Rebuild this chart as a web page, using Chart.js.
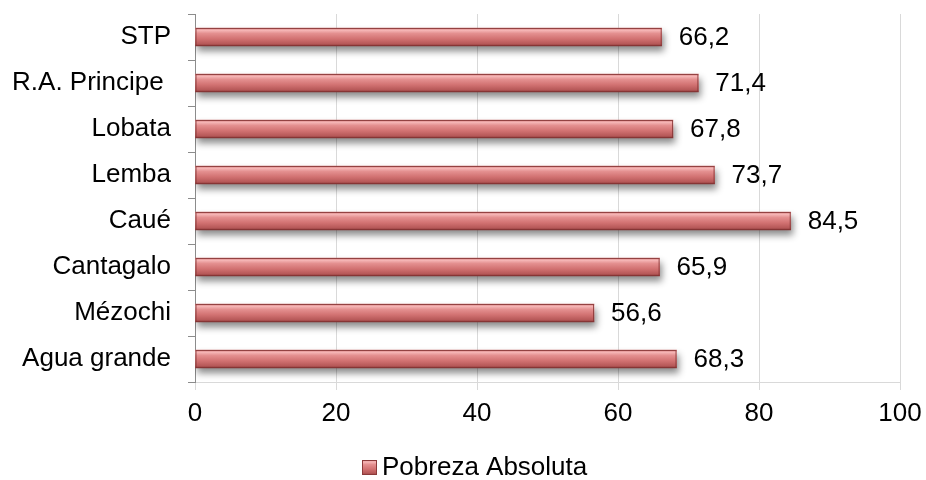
<!DOCTYPE html>
<html lang="pt">
<head>
  <meta charset="UTF-8">
  <title>Pobreza Absoluta</title>
  <script src="https://cdn.jsdelivr.net/npm/chart.js"></script>
  <style>
    html, body { margin: 0; padding: 0; background: #fff; }
    #wrap { width: 926px; height: 480px; }
  </style>
</head>
<body>
  <div id="wrap"><canvas id="myChart" width="926" height="480"></canvas></div>

  <script>
    const categorias = ['STP', 'R.A. Principe ', 'Lobata', 'Lemba', 'Caué', 'Cantagalo', 'Mézochi', 'Agua grande'];
    const pobreza = [66.2, 71.4, 67.8, 73.7, 84.5, 65.9, 56.6, 68.3];
    const ticksX = [0, 20, 40, 60, 80, 100];
    const serieNome = 'Pobreza Absoluta';

    const fonte = 'Liberation Sans, Arial, sans-serif';
    const BAR_H = 18;

    function gradiente(ctx, top, h) {
      const g = ctx.createLinearGradient(0, top, 0, top + h);
      g.addColorStop(0, '#d07070');
      g.addColorStop(0.12, '#f6b8b8');
      g.addColorStop(0.3, '#e49090');
      g.addColorStop(0.6, '#d27272');
      g.addColorStop(0.88, '#b65858');
      g.addColorStop(1, '#8a3a3a');
      return g;
    }

    // each bar gets its own vertical gradient (cylinder look)
    function corBarra(c) {
      const chart = c.chart;
      const y = chart.scales.y;
      if (!y || c.dataIndex === undefined || !chart.chartArea) return '#d27272';
      const cy = y.getPixelForValue(c.dataIndex);
      return gradiente(chart.ctx, cy - BAR_H / 2, BAR_H);
    }

    const barras3d = {
      id: 'barras3d',
      beforeDatasetsDraw(chart) {
        const ctx = chart.ctx;
        ctx.save();
        ctx.shadowColor = 'rgba(0,0,0,0.45)';
        ctx.shadowBlur = 7;
        ctx.shadowOffsetX = 2;
        ctx.shadowOffsetY = 5;
      },
      afterDatasetsDraw(chart) {
        const ctx = chart.ctx;
        ctx.restore();
        const meta = chart.getDatasetMeta(0);
        ctx.save();
        // thin dark outline
        ctx.strokeStyle = 'rgba(130,50,50,0.8)';
        ctx.lineWidth = 1;
        meta.data.forEach(bar => {
          const left = Math.min(bar.base, bar.x);
          ctx.strokeRect(left + 0.5, bar.y - BAR_H / 2 + 0.5, Math.abs(bar.x - bar.base) - 1, BAR_H - 1);
        });
        // value labels, comma decimal
        ctx.font = '26px ' + fonte;
        ctx.fillStyle = '#000';
        ctx.textAlign = 'left';
        ctx.textBaseline = 'middle';
        meta.data.forEach((bar, i) => {
          const txt = pobreza[i].toFixed(1).replace('.', ',');
          ctx.fillText(txt, bar.x + 17, bar.y + 1);
        });
        ctx.restore();
      },
      afterDraw(chart) {
        // legend drawn by hand to place it like the original
        const ctx = chart.ctx;
        ctx.save();
        ctx.fillStyle = gradiente(ctx, 460, 15);
        ctx.fillRect(362, 460, 15, 15);
        ctx.strokeStyle = '#8b3a3a';
        ctx.lineWidth = 1;
        ctx.strokeRect(362.5, 460.5, 14, 14);
        ctx.font = '26px ' + fonte;
        ctx.fillStyle = '#000';
        ctx.textAlign = 'left';
        ctx.textBaseline = 'middle';
        ctx.fillText(serieNome, 382, 468);
        ctx.restore();
      }
    };

    const ctx = document.getElementById('myChart').getContext('2d');
    const myChart = new Chart(ctx, {
      type: 'bar',
      data: {
        labels: categorias,
        datasets: [{
          label: serieNome,
          data: pobreza,
          backgroundColor: corBarra,
          borderWidth: 0,
          barThickness: BAR_H
        }]
      },
      options: {
        indexAxis: 'y',
        responsive: false,
        animation: false,
        layout: { padding: { top: 14, right: 26, bottom: 26, left: 0 } },
        plugins: {
          tooltip: { enabled: false },
          legend: { display: false }
        },
        scales: {
          x: {
            min: 0,
            max: 100,
            afterBuildTicks(scale) {
              scale.ticks = ticksX.map(v => ({ value: v }));
            },
            afterFit(scale) {
              scale.height = 72;
              scale.paddingLeft = 0;
              scale.paddingRight = 0;
            },
            border: { display: true, color: '#d9d9d9', width: 1 },
            grid: { color: '#d9d9d9', lineWidth: 1, drawTicks: true, tickLength: 8 },
            ticks: {
              font: { family: fonte, size: 26 },
              color: '#000',
              padding: 8
            }
          },
          y: {
            afterFit(scale) {
              scale.width = 195;
              scale.paddingTop = 0;
              scale.paddingBottom = 0;
            },
            border: { display: true, color: '#8c8c8c', width: 1 },
            grid: {
              offset: true,
              drawOnChartArea: false,
              drawTicks: true,
              tickLength: 7,
              color: '#8c8c8c'
            },
            ticks: {
              font: { family: fonte, size: 26 },
              color: '#000',
              padding: 17
            }
          }
        }
      },
      plugins: [barras3d]
    });
  </script>
</body>
</html>
